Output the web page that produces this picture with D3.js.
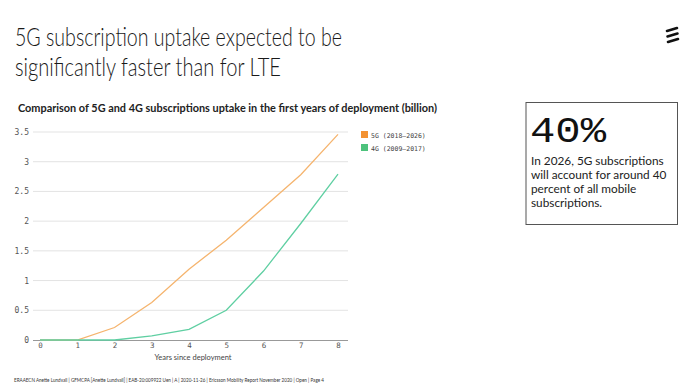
<!DOCTYPE html>
<html>
<head>
<meta charset="utf-8">
<script src="https://cdn.jsdelivr.net/npm/d3@7"></script>
<style>
  body { margin: 0; background: #fff; }
  svg { display: block; }
</style>
</head>
<body>
<div id="slide"></div>
<script>
// Data
const years = [0, 1, 2, 3, 4, 5, 6, 7, 8];
const values5G = [0, 0, 0.21, 0.63, 1.19, 1.68, 2.23, 2.78, 3.46];
const values4G = [0, 0, 0, 0.07, 0.18, 0.5, 1.16, 1.96, 2.79];
const yTicks = [0, 0.5, 1, 1.5, 2, 2.5, 3, 3.5];
const seriesNames = ['5G (2018\u20132026)', '4G (2009\u20132017)'];
const lineColors = ['#F5B46E', '#5FCFA2'];
const legendColors = ['#F39232', '#4DC27C'];

const svg = d3.select('#slide')
    .append('svg')
    .attr('width', 700)
    .attr('height', 391);

// Slide title
const title = svg.append('text')
    .attr('x', 15)
    .attr('font-family', 'Lato, sans-serif')
    .attr('font-weight', 300)
    .attr('font-size', 25)
    .attr('fill', '#1a1a1a');
title.append('tspan').attr('x', 15).attr('y', 46)
    .attr('textLength', 327).attr('lengthAdjust', 'spacingAndGlyphs')
    .text('5G subscription uptake expected to be');
title.append('tspan').attr('x', 15).attr('y', 75.5)
    .attr('textLength', 266).attr('lengthAdjust', 'spacingAndGlyphs')
    .text('significantly faster than for LTE');

// Ericsson logo (three slanted bars)
[0, 1, 2].forEach(i => {
    svg.append('path')
        .attr('d', `M${667 + i * 0.5},${31 + i * 5.5} L${677 + i * 0.5},${28 + i * 5.5}`)
        .attr('stroke', '#111')
        .attr('stroke-width', 2.6)
        .attr('stroke-linecap', 'round');
});

// Chart title
svg.append('text')
    .attr('x', 18)
    .attr('y', 112)
    .attr('font-family', 'Lato, sans-serif')
    .attr('font-weight', 700)
    .attr('font-size', 10.5)
    .attr('fill', '#222')
    .attr('textLength', 419).attr('lengthAdjust', 'spacingAndGlyphs')
    .text('Comparison of 5G and 4G subscriptions uptake in the first years of deployment (billion)');

// Scales
const xScale = d3.scaleLinear().domain([0, 8]).range([40, 338]);
const yScale = d3.scaleLinear().domain([0, 3.5]).range([340, 132]);

// Gridlines
svg.append('g')
    .selectAll('line')
    .data(yTicks.filter(d => d > 0))
    .join('line')
    .attr('x1', 33).attr('x2', 348)
    .attr('y1', d => yScale(d)).attr('y2', d => yScale(d))
    .attr('stroke', '#e3e3e3')
    .attr('stroke-width', 1);

// Y axis labels
const yAxis = d3.axisLeft(yScale).tickValues(yTicks).tickSize(0).tickPadding(0)
    .tickFormat(d => d);
svg.append('g')
    .attr('transform', 'translate(29, 0)')
    .call(yAxis)
    .call(g => g.select('.domain').remove())
    .call(g => g.selectAll('text')
        .attr('font-family', 'DejaVu Sans Mono, monospace')
        .attr('font-size', 8)
        .attr('fill', '#555'));

// X axis
const xAxis = d3.axisBottom(xScale).tickValues(years).tickSize(0).tickPadding(3);
svg.append('g')
    .attr('transform', `translate(0, ${yScale(0)})`)
    .call(xAxis)
    .call(g => g.select('.domain')
        .attr('d', 'M33,0.5H348')
        .attr('stroke', '#999'))
    .call(g => g.selectAll('text')
        .attr('font-family', 'DejaVu Sans Mono, monospace')
        .attr('font-size', 7.5)
        .attr('fill', '#555'));

svg.append('text')
    .attr('x', 193)
    .attr('y', 359.5)
    .attr('text-anchor', 'middle')
    .attr('font-family', 'Lato, sans-serif')
    .attr('font-size', 7.5)
    .attr('fill', '#444')
    .text('Years since deployment');

// Lines
const line = d3.line()
    .x((d, i) => xScale(years[i]))
    .y(d => yScale(d));

[values5G, values4G].forEach((vals, k) => {
    svg.append('path')
        .datum(vals)
        .attr('fill', 'none')
        .attr('stroke', lineColors[k])
        .attr('stroke-width', 1.3)
        .attr('d', line);
});

// Legend
seriesNames.forEach((name, i) => {
    svg.append('rect')
        .attr('x', 361).attr('y', 131 + i * 13)
        .attr('width', 7).attr('height', 7)
        .attr('fill', legendColors[i]);
    svg.append('text')
        .attr('x', 371).attr('y', 137.5 + i * 13)
        .attr('font-family', 'DejaVu Sans Mono, monospace')
        .attr('font-size', 6.5)
        .attr('fill', '#444')
        .text(name);
});

// Callout box
svg.append('rect')
    .attr('x', 526).attr('y', 102.5)
    .attr('width', 151.5).attr('height', 122)
    .attr('fill', 'none')
    .attr('stroke', '#555')
    .attr('stroke-width', 1);

svg.append('text')
    .attr('x', 530)
    .attr('y', 142)
    .attr('font-family', 'Liberation Mono, monospace')
    .attr('font-size', 36)
    .attr('fill', '#111')
    .attr('textLength', 76).attr('lengthAdjust', 'spacingAndGlyphs')
    .text('40%');

const calloutLines = ['In 2026, 5G subscriptions', 'will account for around 40', 'percent of all mobile', 'subscriptions.'];
svg.append('g')
    .selectAll('text')
    .data(calloutLines)
    .join('text')
    .attr('x', 531)
    .attr('y', (d, i) => 164.5 + i * 14.3)
    .attr('font-family', 'Lato, sans-serif')
    .attr('font-size', 11.8)
    .attr('fill', '#222')
    .text(d => d);

// Footer
svg.append('text')
    .attr('x', 14)
    .attr('y', 382)
    .attr('font-family', 'Lato, sans-serif')
    .attr('font-size', 5.6)
    .attr('fill', '#333')
    .attr('textLength', 310).attr('lengthAdjust', 'spacingAndGlyphs')
    .text('ERAAECN Anette Lundvall  |  GFMCPA [Anette Lundvall]  |  EAB-20:009922 Uen  |  A  |  2020-11-26  |  Ericsson Mobility Report November 2020  |  Open  |  Page 4');
</script>
</body>
</html>
